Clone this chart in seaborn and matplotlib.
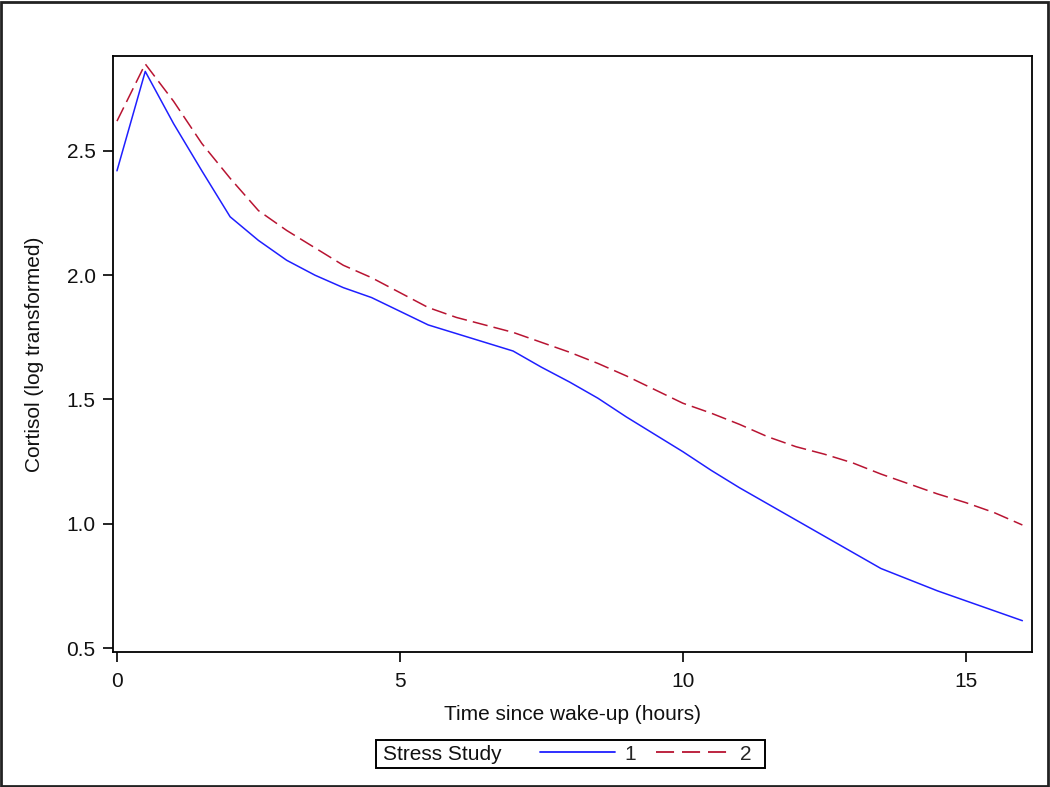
import matplotlib
matplotlib.use("Agg")
import matplotlib.pyplot as plt
import seaborn as sns
import pandas as pd
from matplotlib.patches import Rectangle
from matplotlib.lines import Line2D

hours = [0, 0.5, 1, 1.5, 2, 2.5, 3, 3.5, 4, 4.5, 5, 5.5, 6, 6.5, 7, 7.5, 8,
         8.5, 9, 9.5, 10, 10.5, 11, 11.5, 12, 12.5, 13, 13.5, 14, 14.5, 15, 15.5, 16]
study1 = [2.42, 2.82, 2.61, 2.42, 2.235, 2.14, 2.06, 2.00, 1.95, 1.91, 1.855, 1.80,
          1.765, 1.73, 1.695, 1.63, 1.57, 1.505, 1.43, 1.36, 1.29, 1.215, 1.145,
          1.08, 1.015, 0.95, 0.885, 0.82, 0.775, 0.73, 0.69, 0.65, 0.61]
study2 = [2.62, 2.85, 2.70, 2.53, 2.39, 2.26, 2.18, 2.11, 2.04, 1.99, 1.93, 1.87,
          1.83, 1.80, 1.77, 1.73, 1.69, 1.645, 1.595, 1.54, 1.485, 1.445, 1.40,
          1.35, 1.31, 1.28, 1.245, 1.20, 1.16, 1.12, 1.085, 1.045, 0.995]
studies = ["1", "2"]
xticks = [0, 5, 10, 15]
yticks = [0.5, 1.0, 1.5, 2.0, 2.5]

df = pd.DataFrame({
    "hours": hours * 2,
    "cortisol": study1 + study2,
    "Stress Study": [studies[0]] * len(hours) + [studies[1]] * len(hours),
})

sns.set_theme(style="white")
plt.rcParams["font.family"] = ["Liberation Sans", "DejaVu Sans"]

FS = 15
TXT = "#111111"
colors = {"1": "#1f1fff", "2": "#b81432"}
fig = plt.figure(figsize=(10.5, 7.87), dpi=100)
ax = fig.add_axes([113 / 1050, 1 - 652 / 787, (1032 - 113) / 1050, (652 - 56) / 787])

sns.lineplot(data=df, x="hours", y="cortisol", hue="Stress Study", style="Stress Study",
             palette=colors, dashes={"1": "", "2": (10, 4)}, linewidth=1.1, ax=ax,
             legend=False, estimator=None, sort=False)

ax.set_xlim(-0.07, 16.17)
ax.set_ylim(0.484, 2.882)
ax.set_xticks(xticks)
ax.set_xticklabels([str(t) for t in xticks])
ax.set_yticks(yticks)
ax.set_yticklabels([f"{t:.1f}" for t in yticks])
ax.tick_params(axis="both", direction="out", length=7.5, width=1.2, color="black",
               labelsize=FS, labelcolor=TXT, bottom=True, left=True)
ax.tick_params(axis="x", pad=7)
ax.tick_params(axis="y", pad=5)
for s in ax.spines.values():
    s.set_color("black")
    s.set_linewidth(1.3)
ax.set_xlabel("Time since wake-up (hours)", fontsize=FS, color=TXT, labelpad=10)
ax.set_ylabel("Cortisol (log transformed)", fontsize=FS, color=TXT, labelpad=16)

# legend
handles = [Line2D([], [], color=colors["1"], lw=1.3, linestyle="-"),
           Line2D([], [], color=colors["2"], lw=1.3, linestyle=(0, (10, 4.4)))]
fig.legend(handles, studies, ncol=2, frameon=False, fontsize=FS,
           loc="center left", bbox_to_anchor=(540 / 1050, 1 - 754 / 787),
           handlelength=3.6, handletextpad=0.45, columnspacing=0.95,
           borderpad=0, borderaxespad=0)
fig.text(383 / 1050, 1 - 754 / 787, "Stress Study", fontsize=FS, color=TXT,
         ha="left", va="center")
fig.patches.append(Rectangle((376 / 1050, 1 - 768 / 787), (765 - 376) / 1050, 28 / 787,
                             transform=fig.transFigure, fill=False, edgecolor="black",
                             linewidth=1.4))
fig.patches.append(Rectangle((1 / 1050, 1 / 787), 1047 / 1050, 784 / 787,
                             transform=fig.transFigure, fill=False, edgecolor="#222222",
                             linewidth=2))

fig.savefig("out.png", dpi=100)
